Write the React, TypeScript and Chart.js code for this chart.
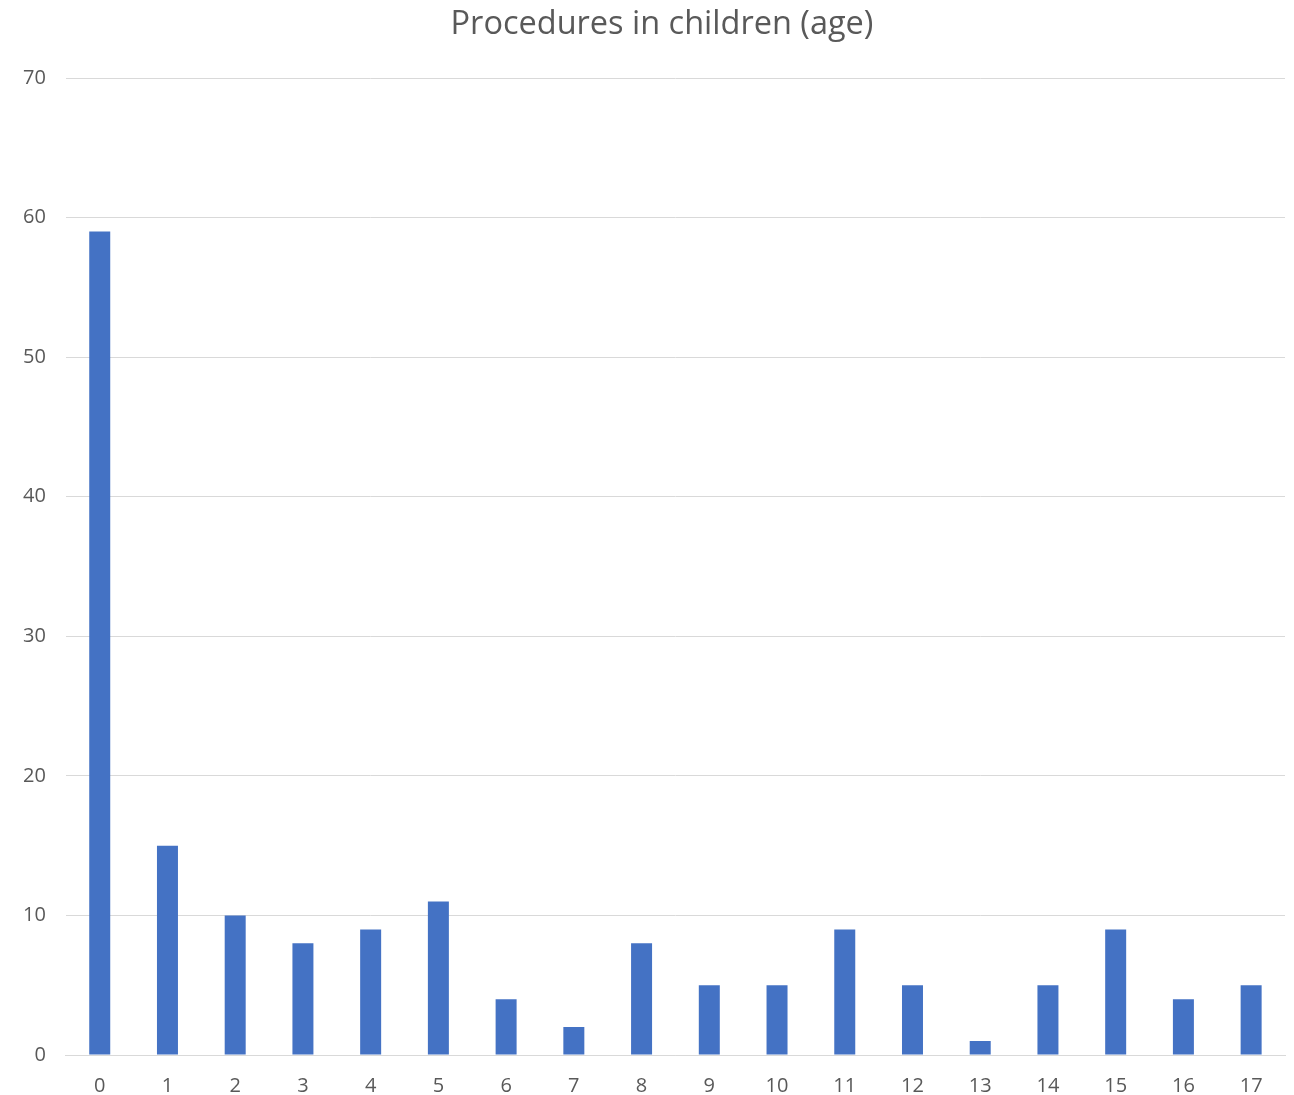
import React, { useEffect, useRef } from "react";
import { Chart, registerables } from "chart.js";

Chart.register(...registerables);

const categories = ["0","1","2","3","4","5","6","7","8","9","10","11","12","13","14","15","16","17"];
const values = [59, 15, 10, 8, 9, 11, 4, 2, 8, 5, 5, 9, 5, 1, 5, 9, 4, 5];
const chartTitle = "Procedures in children (age)";

const titleDrawer = {
  id: "titleDrawer",
  afterDraw(chart: any) {
    const ctx = chart.ctx;
    ctx.save();
    ctx.fillStyle = "#595959";
    ctx.font = "normal 32.5px 'Open Sans'";
    ctx.textAlign = "center";
    ctx.textBaseline = "middle";
    ctx.fillText(chartTitle, 662, 25);
    ctx.restore();
  },
};

export default function App() {
  const ref = useRef<HTMLCanvasElement | null>(null);
  useEffect(() => {
    document.body.style.margin = "0";
    const ctx = ref.current!;
    const chart = new Chart(ctx, {
      type: "bar",
      data: {
        labels: categories,
        datasets: [
          {
            data: values,
            backgroundColor: "#4472C4",
            barPercentage: 0.31,
            categoryPercentage: 1,
          },
        ],
      },
      plugins: [titleDrawer],
      options: {
        animation: false,
        responsive: false,
        layout: { padding: { left: 3, right: 9, top: 0, bottom: -22 } },
        plugins: {
          legend: { display: false },
          tooltip: { enabled: false },
          title: {
            display: true,
            text: chartTitle,
            color: "rgba(0,0,0,0)",
            font: { family: "Open Sans", size: 30, weight: "normal", lineHeight: 1.2 },
            padding: { top: 6, bottom: 36 },
          },
        },
        scales: {
          x: {
            grid: { display: false, drawTicks: false },
            border: { display: true, color: "#d9d9d9", width: 1 },
            ticks: { color: "#595959", font: { family: "Open Sans", size: 20 }, padding: 19 },
          },
          y: {
            min: 0,
            max: 70,
            ticks: { stepSize: 10, color: "#595959", font: { family: "Open Sans", size: 20 }, padding: 20 },
            grid: { color: "#d9d9d9", drawTicks: false },
            border: { display: false },
          },
        },
      },
    });
    return () => chart.destroy();
  }, []);
  return (
    <div style={{ width: 1294, height: 1095, background: "#fff" }}>
      <canvas ref={ref} width={1294} height={1095} />
    </div>
  );
}
